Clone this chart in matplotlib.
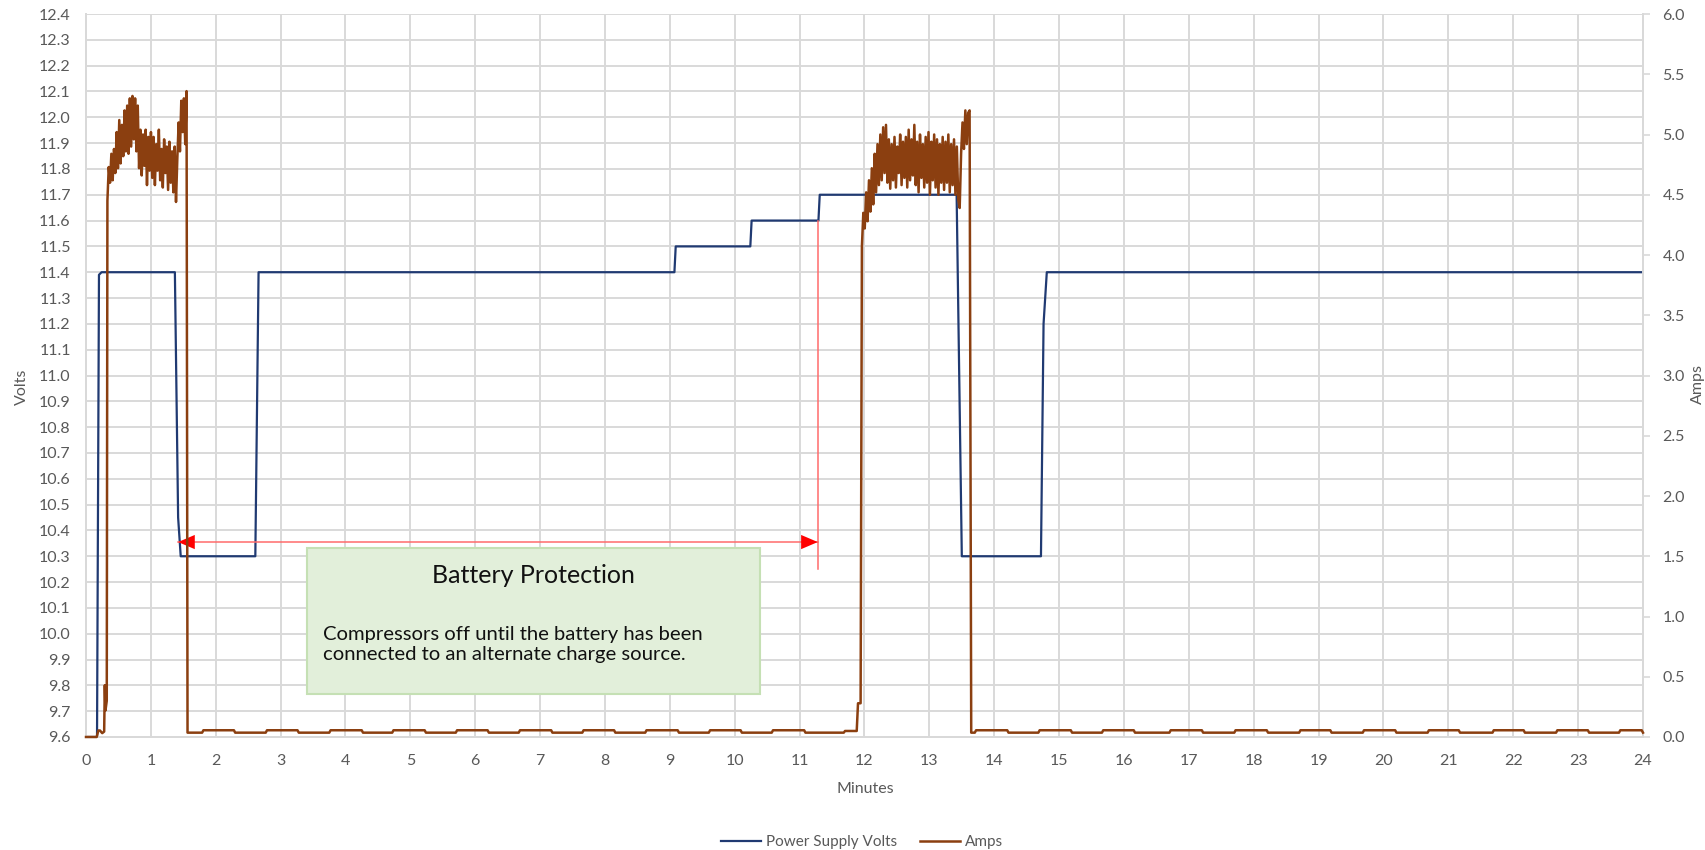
import matplotlib
matplotlib.use("Agg")
import matplotlib.pyplot as plt
import matplotlib.patches as mpatches
import numpy as np

plt.rcParams["font.family"] = ["Lato", "DejaVu Sans"]

# ---- data -------------------------------------------------------------
volts_t = [0, 0.17, 0.20, 0.24, 1.37, 1.42, 1.46, 2.61, 2.66, 9.07, 9.09, 10.24, 10.26,
           11.29, 11.31, 13.42, 13.50, 14.72, 14.76, 14.81, 24]
volts_v = [9.6, 9.6, 11.39, 11.4, 11.4, 10.45, 10.3, 10.3, 11.4, 11.4, 11.5, 11.5, 11.6,
           11.6, 11.7, 11.7, 10.3, 10.3, 11.2, 11.4, 11.4]

# amps before the first compressor run
pre_t = [0, 0.165, 0.19, 0.215, 0.25, 0.28, 0.29, 0.30, 0.32]
pre_a = [0, 0, 0.054, 0.054, 0.032, 0.045, 0.43, 0.22, 0.30]

# first compressor run, 0.33 - 1.55 min
burst1_span = (0.33, 1.55)
burst1_a = [4.45, 4.73, 4.60, 4.84, 4.62, 4.88, 4.68,
            5.02, 4.72, 5.12, 4.76, 5.08, 4.82, 5.20, 4.86, 5.24, 4.84, 5.30, 4.90, 5.32, 4.96,
            5.30, 4.86, 5.24, 4.72, 5.04, 4.66, 5.00, 4.74, 5.04, 4.58, 4.98, 4.70, 5.02,
            4.64, 4.98, 4.58, 4.92, 4.70, 5.04, 4.62, 4.88, 4.56, 4.96, 4.68, 4.90, 4.54,
            4.94, 4.60, 4.86, 4.52, 4.90, 4.44,
            4.80, 5.10, 4.86, 5.28, 5.02, 5.30, 4.92, 5.36]

# second compressor run, 11.96 - 13.62 min
burst2_span = (11.96, 13.62)
burst2_a = [4.07, 4.35, 4.22, 4.52, 4.28, 4.62, 4.36, 4.72, 4.42,
            4.84, 4.52, 4.92, 4.58, 5.00, 4.62, 5.06, 4.68, 5.08, 4.60, 4.96, 4.55,
            4.92, 4.62, 4.98, 4.56, 4.90, 4.68, 5.00, 4.58, 4.94, 4.64, 4.98, 4.56,
            5.04, 4.62, 4.96, 4.66, 5.08, 4.58, 4.94, 4.52, 5.00, 4.64, 4.92, 4.56,
            4.98, 4.60, 5.02, 4.50, 4.94, 4.62, 5.00, 4.56, 4.96, 4.50, 4.92, 4.60,
            4.98, 4.54, 4.94, 4.60, 5.00, 4.52, 4.92, 4.58, 4.96, 4.50, 4.90, 4.46,
            4.39, 4.84, 5.10, 4.88, 5.20, 4.92, 5.18, 5.20]

# idle draw: low level with periodic small bumps (start, end of each bump)
idle_low = 0.036
idle_high = 0.056
idle_bumps_a = [(1.81, 2.28), (2.79, 3.26), (3.77, 4.25), (4.74, 5.22), (5.72, 6.19),
                (6.69, 7.17), (7.67, 8.14), (8.64, 9.12), (9.62, 10.09), (10.59, 11.07)]
idle_bumps_b = [(13.72, 14.20), (14.70, 15.18), (15.68, 16.15), (16.72, 17.20), (17.72, 18.20),
                (18.72, 19.18), (19.70, 20.18), (20.70, 21.16), (21.70, 22.16), (22.68, 23.15),
                (23.65, 23.98)]
pre_run2_t = [11.68, 11.70, 11.88, 11.90, 11.94]
pre_run2_a = [idle_low, 0.05, 0.05, 0.28, 0.28]

# annotation
prot_start, prot_end, prot_level = 1.42, 11.28, 10.355
marker_line = (11.28, 10.25, 11.6)

# ---- build the amps trace ---------------------------------------------
def idle(bumps, t, a):
    for s, e in bumps:
        t += [s - 0.02, s, e, e + 0.02]
        a += [idle_low, idle_high, idle_high, idle_low]


amps_t = list(pre_t)
amps_a = list(pre_a)
amps_t += list(np.linspace(burst1_span[0], burst1_span[1], len(burst1_a)))
amps_a += burst1_a
amps_t += [1.565]
amps_a += [idle_low]
idle(idle_bumps_a, amps_t, amps_a)
amps_t += pre_run2_t
amps_a += pre_run2_a
amps_t += list(np.linspace(burst2_span[0], burst2_span[1], len(burst2_a)))
amps_a += burst2_a
amps_t += [13.645]
amps_a += [idle_low]
idle(idle_bumps_b, amps_t, amps_a)
amps_t += [24]
amps_a += [idle_low]

# ---- figure -------------------------------------------------------------
grid_c = "#d9d9d9"
label_c = "#595959"
fs = 11.5

fig = plt.figure(figsize=(17.06, 8.5), dpi=100)
ax = fig.add_axes([86 / 1706, 1 - 737 / 850, (1643 - 86) / 1706, (737 - 14) / 850])
ax2 = ax.twinx()

ax.set_xlim(0, 24)
ax.set_ylim(9.6, 12.4)
ax.set_xticks(range(0, 25))
ax.set_yticks(np.round(np.arange(9.6, 12.41, 0.1), 1))
ax.yaxis.set_major_formatter(matplotlib.ticker.FormatStrFormatter("%.1f"))
ax.grid(True, color=grid_c, lw=1.4)
ax.set_axisbelow(True)
ax.tick_params(axis="both", length=0, colors=label_c, labelsize=fs)
ax.tick_params(axis="x", pad=12)
ax.tick_params(axis="y", pad=11)

ax2.set_ylim(0, 6)
ax2.set_yticks(np.arange(0, 6.01, 0.5))
ax2.yaxis.set_major_formatter(matplotlib.ticker.FormatStrFormatter("%.1f"))
ax2.tick_params(axis="y", length=5, width=1.2, color=grid_c, labelcolor=label_c,
                labelsize=fs, pad=9)

for a_ in (ax, ax2):
    for side in ("left", "bottom", "right"):
        a_.spines[side].set_color(grid_c)
        a_.spines[side].set_linewidth(1.4)
    a_.spines["top"].set_visible(False)

l1, = ax.plot(volts_t, volts_v, color="#203a72", lw=1.6, zorder=4, label="Power Supply Volts")
l2, = ax2.plot(amps_t, amps_a, color="#8b3f10", lw=1.8, zorder=4, clip_on=False, label="Amps")

# battery protection annotation
red = "#ff0000"
ax.plot([prot_start, prot_end], [prot_level, prot_level], color="#ff6b6b", lw=1.1, zorder=5)
ax.plot([marker_line[0], marker_line[0]], [marker_line[1], marker_line[2]],
        color="#ff6b6b", lw=1.1, zorder=5)
head = dict(arrowstyle="-|>,head_length=0.75,head_width=0.32", color=red, lw=0,
            mutation_scale=16, shrinkA=0, shrinkB=0)
ax.annotate("", xy=(prot_start, prot_level), xytext=(prot_start + 0.5, prot_level),
            arrowprops=head, zorder=6)
ax.annotate("", xy=(prot_end, prot_level), xytext=(prot_end - 0.5, prot_level),
            arrowprops=head, zorder=6)

ax.add_patch(mpatches.Rectangle((3.41, 9.766), 10.39 - 3.41, 10.332 - 9.766,
                                facecolor="#e2efda", edgecolor="#c5e0b4", lw=1.5, zorder=3))
ax.text(6.9, 10.227, "Battery Protection", ha="center", va="center",
        fontsize=18, color="#111111", zorder=6)
ax.text(3.65, 9.958, "Compressors off until the battery has been\nconnected to an alternate charge source.",
        ha="left", va="center", fontsize=14.6, color="#111111", linespacing=1.2, zorder=6)

# axis titles
fig.text(22 / 1706, 1 - 387 / 850, "Volts", rotation=90, ha="center", va="center",
         fontsize=fs, color=label_c)
fig.text(865 / 1706, 1 - 789 / 850, "Minutes", ha="center", va="center",
         fontsize=fs, color=label_c)
fig.text(1698 / 1706, 1 - 384 / 850, "Amps", rotation=90, ha="center", va="center",
         fontsize=fs, color=label_c)

fig.legend(handles=[l1, l2], loc="center", bbox_to_anchor=(862 / 1706, 1 - 842 / 850),
           ncol=2, frameon=False, fontsize=fs - 0.5, handlelength=2.6, handletextpad=0.35,
           columnspacing=1.5, labelcolor=label_c)

fig.savefig("out.png", dpi=100)
